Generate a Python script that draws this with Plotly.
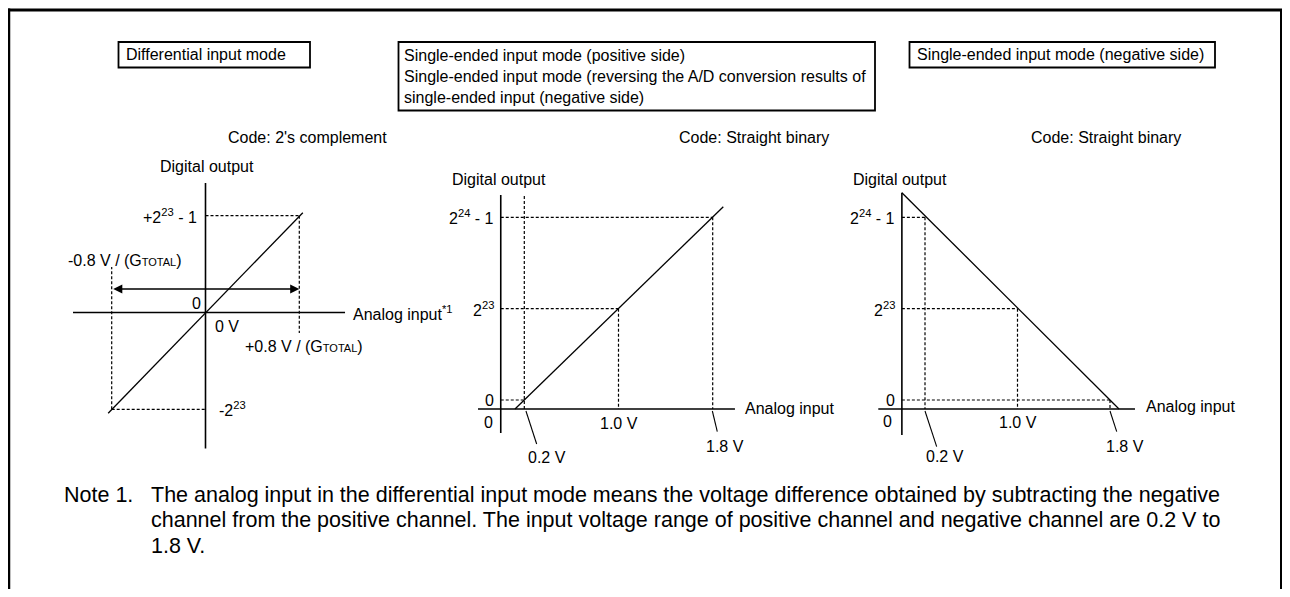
import plotly.graph_objects as go

OFF = 8                      # page body margin in the browser
W, H = 1290 - OFF, 597 - 2 * OFF
C23 = 2 ** 23
C24 = 2 ** 24

# ---------------- data ----------------
# Panel 1: differential input mode, code = 2's complement
# analog input in V (shown for G_TOTAL = 1), digital output in codes
p1_axis_x = [-1.13, 1.19]
p1_axis_y = [-11790000, 11223000]
p1_transfer_x = [-0.83, 0.83]
p1_transfer_y = [-8730000, 8650000]
p1_fullscale_x = [-0.8, 0.8]
p1_fullscale_y = [-C23, C23 - 1]
p1_guide_pos_end = -1776000
p1_guide_neg_end = 3943000
p1_span_arrow_y = 2037000

# Panel 2: single-ended input mode (positive side), code = straight binary
p2_axis_x = [-0.193, 1.989]
p2_axis_level = -826000
p2_axis_y = [-3030000, 18825000]
p2_transfer_x = [0.121, 1.890]
p2_transfer_y = [-826000, 17750000]
p2_points_x = [0.2, 1.0, 1.8]
p2_points_y = [0, C23, C24 - 1]
p2_guide02_top = 18917000
p2_leader02_x = [0.214, 0.305]
p2_leader02_y = [-1010000, -4040000]
p2_leader18_x = [1.797, 1.839]
p2_leader18_y = [-1010000, -2911000]

# Panel 3: single-ended input mode (negative side), code = straight binary
p3_axis_x = [-0.204, 2.016]
p3_axis_level = -826000
p3_axis_y = [-3214000, 19036000]
p3_transfer_x = [0.0, 1.878]
p3_transfer_y = [19036000, -826000]
p3_points_x = [0.2, 1.0, 1.8]
p3_points_y = [C24 - 1, C23, 0]
p3_leader02_x = [0.2, 0.301]
p3_leader02_y = [-1010000, -4288000]
p3_leader18_x = [1.8, 1.858]
p3_leader18_y = [-1010000, -2911000]

voltage_labels = ["0.2 V", "1.0 V", "1.8 V"]
code_values = [0, C23, C24 - 1]
code_labels = ["0", "2<sup>23</sup>", "2<sup>24</sup> - 1"]

FONT = "Liberation Sans, Arial, sans-serif"
BLACK = "#000000"

fig = go.Figure()


def px(x):
    return (x - OFF) / W


def py(y):
    return 1 - (y - OFF) / H


def axis_cfg(v0, p0, v1, p1, d0, d1, vertical=False):
    s = (p1 - p0) / (v1 - v0)
    if not vertical:
        rng = [v0 + (d0 - p0) / s, v0 + (d1 - p0) / s]
        dom = [px(d0), px(d1)]
    else:
        rng = [v0 + (d1 - p0) / s, v0 + (d0 - p0) / s]
        dom = [py(d1), py(d0)]
    return dict(range=rng, domain=dom, visible=False, fixedrange=True,
                showgrid=False, zeroline=False)


def seg(xs, ys, ax, width=1.3, dash=None, color=BLACK):
    fig.add_trace(go.Scatter(x=xs, y=ys, mode="lines",
                             line=dict(color=color, width=width, dash=dash),
                             xaxis=ax[0], yaxis=ax[1], showlegend=False,
                             hoverinfo="skip"))


def join(segments):
    xs, ys = [], []
    for sx, sy in segments:
        xs += list(sx) + [None]
        ys += list(sy) + [None]
    return xs, ys


DASH = "3px,2px"
DW = 1.2

# ---------------- panel 1 ----------------
A1 = ("x", "y")
seg(p1_axis_x, [0, 0], A1, width=1.6)
seg([0, 0], p1_axis_y, A1, width=1.6)
g = join([
    ([0, p1_fullscale_x[1]], [p1_fullscale_y[1]] * 2),
    ([p1_fullscale_x[1]] * 2, [p1_fullscale_y[1], p1_guide_pos_end]),
    ([p1_fullscale_x[0], 0], [p1_fullscale_y[0]] * 2),
    ([p1_fullscale_x[0]] * 2, [p1_fullscale_y[0], p1_guide_neg_end]),
])
seg(*g, A1, width=DW, dash=DASH)
seg(p1_transfer_x, p1_transfer_y, A1, width=1.3)

# ---------------- panel 2 ----------------
A2 = ("x2", "y2")
seg(p2_axis_x, [p2_axis_level] * 2, A2, width=1.6)
seg([0, 0], p2_axis_y, A2, width=1.6)
g = join([
    ([p2_points_x[0]] * 2, [p2_axis_level, p2_guide02_top]),
    ([0, p2_points_x[0]], [p2_points_y[0]] * 2),
    ([0, p2_points_x[1]], [p2_points_y[1]] * 2),
    ([p2_points_x[1]] * 2, [p2_points_y[1], p2_axis_level]),
    ([0, p2_points_x[2]], [p2_points_y[2]] * 2),
    ([p2_points_x[2]] * 2, [p2_points_y[2], p2_axis_level]),
])
seg(*g, A2, width=DW, dash=DASH)
seg(p2_transfer_x, p2_transfer_y, A2, width=1.3)
l = join([(p2_leader02_x, p2_leader02_y), (p2_leader18_x, p2_leader18_y)])
seg(*l, A2, width=1.1)

# ---------------- panel 3 ----------------
A3 = ("x3", "y3")
seg(p3_axis_x, [p3_axis_level] * 2, A3, width=1.6)
seg([0, 0], p3_axis_y, A3, width=1.6)
g = join([
    ([0, p3_points_x[0]], [p3_points_y[0]] * 2),
    ([p3_points_x[0]] * 2, [p3_points_y[0], p3_axis_level]),
    ([0, p3_points_x[1]], [p3_points_y[1]] * 2),
    ([p3_points_x[1]] * 2, [p3_points_y[1], p3_axis_level]),
    ([0, p3_points_x[2]], [p3_points_y[2]] * 2),
    ([p3_points_x[2]] * 2, [p3_points_y[2], p3_axis_level]),
])
seg(*g, A3, width=DW, dash=DASH)
seg(p3_transfer_x, p3_transfer_y, A3, width=1.3)
l = join([(p3_leader02_x, p3_leader02_y), (p3_leader18_x, p3_leader18_y)])
seg(*l, A3, width=1.1)

# ---------------- annotations ----------------
anns = []


def text(t, x, y, xref="paper", yref="paper", xanchor="center", yanchor="middle",
         size=16, align="left"):
    anns.append(dict(text=t, x=px(x) if xref == "paper" else x,
                     y=py(y) if yref == "paper" else y,
                     xref=xref, yref=yref, xanchor=xanchor, yanchor=yanchor,
                     showarrow=False, align=align,
                     font=dict(family=FONT, size=size, color=BLACK)))


GT = 'G<span style="font-size:11px">TOTAL</span>'

# box headers
text("Differential input mode", 124, 55, xanchor="left")
text("Single-ended input mode (positive side)<br>"
     "Single-ended input mode (reversing the A/D conversion results of<br>"
     "single-ended input (negative side)", 401.5, 76.5, xanchor="left")
text("Single-ended input mode (negative side)", 915, 55, xanchor="left")

text("Code: 2's complement", 307.5, 137)
text("Code: Straight binary", 754, 137)
text("Code: Straight binary", 1105.5, 137)

text("Digital output", 207, 167)
text("Digital output", 498.7, 179.3)
text("Digital output", 899.8, 179.3)

# panel 1 labels
text("+2<sup>23</sup> - 1", 198.5, p1_fullscale_y[1], yref="y", xanchor="right")
text("-2<sup>23</sup>", 216.5, p1_fullscale_y[0], yref="y", xanchor="left")
text("-0.8 V / (" + GT + ")", 66, 261, xanchor="left")
text("+0.8 V / (" + GT + ")", 242.5, 346.7, xanchor="left")
text("0", 196, 303)
text("0 V", 212.5, 326, xanchor="left")
text("Analog input<sup>*1</sup>", 351, 313.3, xanchor="left")

# panel 2 labels
for yv, lab in zip(code_values, code_labels):
    text(lab, 495.5, yv, yref="y2", xanchor="right")
text("0", 488.3, 422.7)
text(voltage_labels[1], p2_points_x[1], 423.3, xref="x2")
text(voltage_labels[0], 546.7, 457.3)
text(voltage_labels[2], 725, 446.7)
text("Analog input", 742.5, 408, xanchor="left")

# panel 3 labels
for yv, lab in zip(code_values, code_labels):
    text(lab, 896.5, yv, yref="y3", xanchor="right")
text("0", 887.7, 421.7)
text(voltage_labels[1], p3_points_x[1], 422, xref="x3")
text(voltage_labels[0], 945, 456.5)
text(voltage_labels[2], 1125, 446.7)
text("Analog input", 1144, 406.7, xanchor="left")

# note
NOTE_FS = 21.5
text("Note 1.", 62, 494.5, xanchor="left", size=NOTE_FS)
note_lines = [
    "The analog input in the differential input mode means the voltage difference "
    "obtained by subtracting the negative",
    "channel from the positive channel. The input voltage range of positive channel "
    "and negative channel are 0.2 V to",
    "1.8 V.",
]
for yy, ln in zip([494.5, 520.2, 545.8], note_lines):
    text(ln, 148.5, yy, xanchor="left", size=NOTE_FS)

# double-headed span arrow (panel 1)
anns.append(dict(x=p1_fullscale_x[1], y=p1_span_arrow_y, ax=p1_fullscale_x[0],
                 ay=p1_span_arrow_y, xref="x", yref="y", axref="x", ayref="y",
                 text="", showarrow=True, arrowhead=2, startarrowhead=2,
                 arrowside="end+start", arrowwidth=1.3, arrowsize=1.4,
                 arrowcolor=BLACK, standoff=0, startstandoff=0))

# ---------------- shapes: frame and boxes ----------------
shapes = []


def rect(x0, y0, x1, y1, w=1.8):
    shapes.append(dict(type="rect", xref="paper", yref="paper",
                       x0=px(x0), x1=px(x1), y0=py(y1), y1=py(y0),
                       line=dict(color=BLACK, width=w), fillcolor="rgba(0,0,0,0)"))


def line(x0, y0, x1, y1, w):
    shapes.append(dict(type="line", xref="paper", yref="paper",
                       x0=px(x0), x1=px(x1), y0=py(y0), y1=py(y1),
                       line=dict(color=BLACK, width=w)))


rect(118.5, 42, 310, 67.5)
rect(398.5, 42, 875, 110.5)
rect(909.5, 42, 1215, 67.5)
line(9, 8.5, 9, 600, 2.5)
line(8, 10, 1287, 10, 3)
line(1281, 9, 1281, 600, 2)

fig.update_layout(
    width=W, height=H,
    margin=dict(l=0, r=0, t=0, b=0),
    paper_bgcolor="white", plot_bgcolor="rgba(0,0,0,0)",
    showlegend=False,
    annotations=anns, shapes=shapes,
    xaxis=dict(axis_cfg(-0.8, 111.7, 0.8, 299.3, 40, 400), anchor="y"),
    yaxis=dict(axis_cfg(-C23, 409.3, C23, 215.7, 140, 480, vertical=True), anchor="x"),
    xaxis2=dict(axis_cfg(0.2, 524.3, 1.8, 712.7, 440, 800), anchor="y2"),
    yaxis2=dict(axis_cfg(0, 400, C24, 217.3, 140, 480, vertical=True), anchor="x2"),
    xaxis3=dict(axis_cfg(0.2, 925, 1.8, 1110, 840, 1250), anchor="y3"),
    yaxis3=dict(axis_cfg(0, 400, C24, 217.3, 140, 480, vertical=True), anchor="x3"),
)

fig.write_html("out.html")
